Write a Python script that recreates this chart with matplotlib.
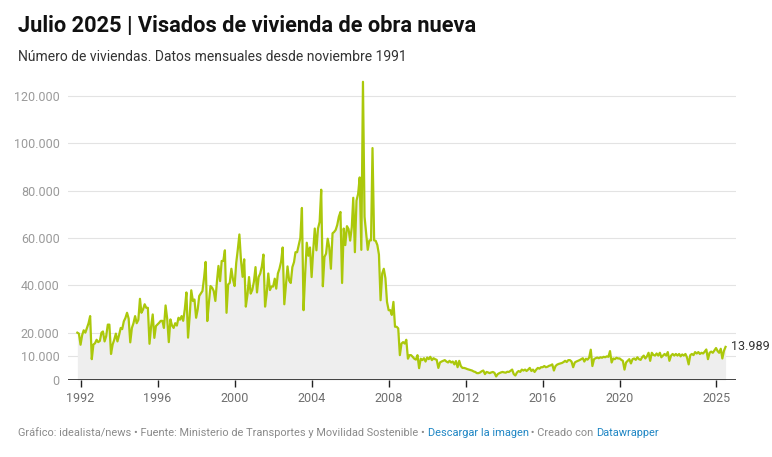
import matplotlib
matplotlib.use('Agg')
import numpy as np
import pandas as pd
import matplotlib.pyplot as plt
import matplotlib.dates as mdates

plt.rcParams['font.family'] = ['Roboto', 'DejaVu Sans']

# viviendas visadas por mes, en miles (nov 1991 - jul 2025)
v1991 = [20.0, 19.6]
v1992 = [14.9, 19.0, 21.0, 20.0, 22.0, 24.0, 27.0, 8.8, 15.0, 15.5, 17.0, 16.0]
v1993 = [16.5, 20.0, 20.5, 16.3, 18.5, 23.4, 23.4, 11.0, 15.0, 17.0, 19.6, 16.3]
v1994 = [19.0, 22.0, 21.5, 24.8, 26.2, 28.4, 26.0, 15.9, 22.0, 24.0, 27.0, 24.0]
v1995 = [25.4, 34.3, 28.4, 29.8, 32.0, 30.5, 30.5, 15.3, 22.7, 27.7, 17.8, 22.8]
v1996 = [23.5, 24.2, 25.0, 25.0, 22.0, 31.5, 26.0, 16.0, 25.6, 23.0, 22.0, 24.0]
v1997 = [23.0, 26.3, 25.5, 27.0, 25.0, 30.0, 37.0, 17.9, 27.0, 37.9, 33.4, 34.0]
v1998 = [26.3, 29.9, 35.5, 36.6, 37.6, 43.2, 49.9, 24.9, 32.7, 39.7, 39.0, 37.6]
v1999 = [33.4, 41.8, 48.2, 41.8, 50.3, 50.3, 54.8, 28.4, 40.4, 41.0, 47.0, 42.5]
v2000 = [39.7, 49.5, 55.0, 61.5, 50.7, 43.6, 51.0, 31.0, 36.0, 43.5, 36.5, 38.0]
v2001 = [41.5, 47.7, 37.0, 43.5, 45.0, 48.0, 53.0, 31.0, 36.5, 45.0, 38.0, 39.5]
v2002 = [39.5, 42.8, 38.6, 45.0, 47.0, 50.0, 56.0, 32.0, 40.0, 48.0, 42.0, 41.0]
v2003 = [47.7, 49.8, 54.0, 54.0, 57.0, 60.0, 72.7, 29.5, 45.0, 58.0, 52.5, 56.0]
v2004 = [43.5, 55.0, 64.0, 54.8, 64.0, 66.8, 80.4, 39.6, 52.0, 53.4, 59.7, 56.0]
v2005 = [47.0, 62.0, 62.5, 63.4, 65.5, 69.0, 71.0, 41.0, 64.0, 57.0, 65.0, 63.8]
v2006 = [58.9, 64.6, 77.0, 54.0, 75.8, 78.6, 85.6, 55.0, 126.0, 69.0, 62.0, 55.0]
v2007 = [59.0, 59.0, 98.0, 59.0, 58.8, 57.0, 53.0, 33.7, 45.0, 47.0, 43.0, 33.0]
v2008 = [29.5, 29.5, 27.5, 33.0, 22.5, 22.5, 21.8, 10.5, 15.4, 16.0, 15.4, 17.0]
v2009 = [9.0, 10.5, 10.5, 9.8, 9.0, 8.6, 10.5, 5.0, 9.0, 8.4, 9.2, 7.8]
v2010 = [9.5, 8.8, 9.8, 8.4, 9.2, 8.8, 8.5, 5.1, 7.4, 7.8, 8.1, 8.4]
v2011 = [7.8, 7.4, 8.1, 7.4, 7.8, 6.6, 8.0, 5.4, 8.1, 5.9, 5.1, 5.1]
v2012 = [4.9, 4.6, 4.4, 4.2, 4.0, 3.6, 3.4, 2.9, 2.9, 3.2, 3.7, 4.0]
v2013 = [2.5, 3.4, 3.2, 2.9, 3.2, 3.4, 3.0, 1.5, 2.5, 2.9, 3.2, 3.4]
v2014 = [3.2, 3.1, 3.5, 3.4, 3.9, 4.4, 2.5, 1.9, 3.2, 3.8, 3.4, 4.4]
v2015 = [4.0, 4.4, 3.8, 4.4, 5.1, 3.8, 4.4, 3.4, 4.4, 5.1, 4.8, 5.4]
v2016 = [5.4, 5.9, 5.4, 5.6, 6.0, 6.2, 6.6, 4.0, 5.9, 6.5, 6.8, 7.0]
v2017 = [7.2, 7.6, 8.1, 7.6, 8.4, 8.4, 7.8, 5.4, 7.4, 7.8, 8.1, 8.4]
v2018 = [8.8, 9.2, 7.8, 9.0, 8.6, 9.5, 12.8, 5.9, 8.8, 9.2, 9.5, 9.2]
v2019 = [9.6, 9.4, 9.8, 9.6, 10.0, 9.8, 12.2, 7.4, 9.1, 8.8, 9.4, 9.1]
v2020 = [9.1, 8.5, 8.1, 4.4, 7.4, 8.1, 8.8, 7.0, 8.8, 9.1, 8.5, 9.6]
v2021 = [8.8, 8.5, 9.6, 10.3, 9.1, 10.0, 11.5, 8.1, 11.5, 10.6, 10.3, 11.2]
v2022 = [10.3, 11.5, 9.6, 10.3, 11.0, 10.3, 11.8, 8.1, 10.3, 11.0, 10.3, 11.0]
v2023 = [10.3, 11.0, 10.0, 10.8, 10.3, 11.0, 9.5, 6.6, 10.5, 11.0, 10.5, 11.8]
v2024 = [11.2, 11.8, 11.0, 11.5, 11.2, 12.0, 12.9, 8.8, 11.5, 12.0, 11.5, 12.5]
v2025 = [13.5, 12.2, 11.5, 13.2, 9.1, 12.4, 13.989]

year_ticks = [1992, 1996, 2000, 2004, 2008, 2012, 2016, 2020, 2025]
y_ticks = [0, 10000, 20000, 40000, 60000, 80000, 100000, 120000]

title = 'Julio 2025 | Visados de vivienda de obra nueva'
subtitle = 'Número de viviendas. Datos mensuales desde noviembre 1991'

values = np.array(v1991 + v1992 + v1993 + v1994 + v1995 + v1996 + v1997 + v1998 +
                  v1999 + v2000 + v2001 + v2002 + v2003 + v2004 + v2005 + v2006 +
                  v2007 + v2008 + v2009 + v2010 + v2011 + v2012 + v2013 + v2014 +
                  v2015 + v2016 + v2017 + v2018 + v2019 + v2020 + v2021 + v2022 +
                  v2023 + v2024 + v2025) * 1000
dates = pd.date_range('1991-11-01', periods=len(values), freq='MS')

LINE = '#abc80b'
W, H = 772, 457


def fmt(v):
    return '{:,.0f}'.format(v).replace(',', '.')


fig = plt.figure(figsize=(W / 100, H / 100), dpi=100)
ax = fig.add_axes([68 / W, (H - 380) / H, (736 - 68) / W, (380 - 78) / H])

ax.fill_between(dates, 0, values, color='#eeeeee', lw=0, zorder=1)
ax.plot(dates, values, color=LINE, lw=1.6, zorder=3, clip_on=False,
        solid_joinstyle='round')

ax.set_xlim(pd.Timestamp('1991-05-08'), pd.Timestamp('2026-01-15'))
ax.set_ylim(0, 120000 * 302 / 284)

for v in y_ticks[1:]:
    ax.axhline(v, color='#e3e3e3', lw=0.8, zorder=0)
ax.axhline(0, color='#222222', lw=1.2, zorder=4)

ax.set_yticks(y_ticks)
ax.set_yticklabels([fmt(v) for v in y_ticks])
ax.tick_params(axis='y', length=0, pad=6, labelsize=9, labelcolor='#9a9a9a')
ax.set_xticks([pd.Timestamp(f'{y}-01-01') for y in year_ticks])
ax.set_xticklabels([str(y) for y in year_ticks])
ax.tick_params(axis='x', length=5, width=1, color='#222222', pad=4,
               labelsize=9, labelcolor='#6f6f6f')
for s in ax.spines.values():
    s.set_visible(False)

ax.annotate(fmt(values[-1]), (dates[-1], values[-1]), xytext=(4, 0),
            textcoords='offset points', va='center', ha='left',
            fontsize=9, color='#333333')

fig.text(18 / W, 1 - 32 / H, title, fontsize=15.7, fontweight='bold',
         color='#111111', va='baseline')
fig.text(18 / W, 1 - 61 / H, subtitle, fontsize=10, color='#333333',
         va='baseline')

# pie de gráfico con enlaces en azul
footer = [('Gráfico: idealista/news • Fuente: Ministerio de Transportes y Movilidad Sostenible • ', '#8a8a8a'),
          ('Descargar la imagen', '#1f86c4'),
          (' • Creado con ', '#8a8a8a'),
          ('Datawrapper', '#1f86c4')]
renderer = fig.canvas.get_renderer()
x = 18 / W
for txt, col in footer:
    t = fig.text(x, 1 - 436 / H, txt, fontsize=7.9, color=col, va='baseline')
    bb = t.get_window_extent(renderer=renderer)
    x += bb.width / W

fig.savefig('out.png', dpi=100, facecolor='white')
